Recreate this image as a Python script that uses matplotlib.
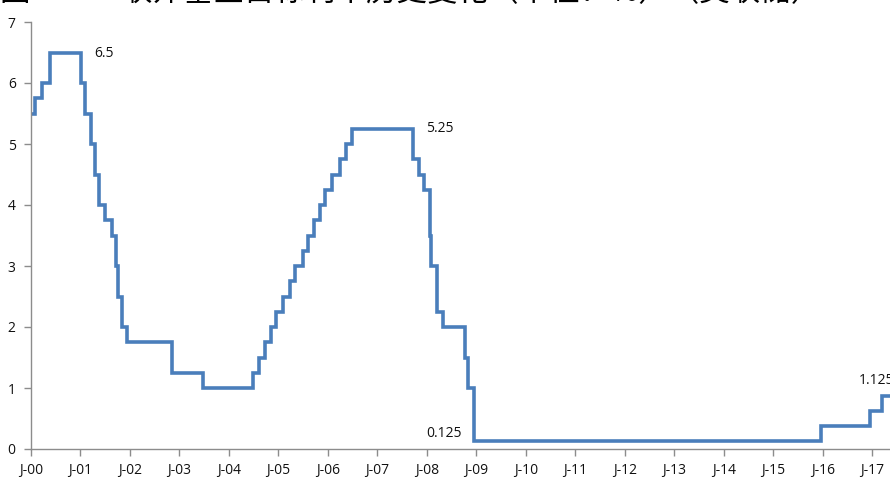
import matplotlib
matplotlib.use("Agg")
import matplotlib.pyplot as plt
import numpy as np

plt.rcParams['font.family'] = ['Open Sans', 'Noto Sans CJK SC', 'DejaVu Sans']

# Fed funds target rate change dates (year, month, day) and new target level (%)
change_dates = [
    (1999, 11, 16), (2000, 2, 2), (2000, 3, 21), (2000, 5, 16),
    (2001, 1, 3), (2001, 1, 31), (2001, 3, 20), (2001, 4, 18), (2001, 5, 15),
    (2001, 6, 27), (2001, 8, 21), (2001, 9, 17), (2001, 10, 2), (2001, 11, 6),
    (2001, 12, 11), (2002, 11, 6), (2003, 6, 25), (2004, 6, 30), (2004, 8, 10),
    (2004, 9, 21), (2004, 11, 10), (2004, 12, 14), (2005, 2, 2), (2005, 3, 22),
    (2005, 5, 3), (2005, 6, 30), (2005, 8, 9), (2005, 9, 20), (2005, 11, 1),
    (2005, 12, 13), (2006, 1, 31), (2006, 3, 28), (2006, 5, 10), (2006, 6, 29),
    (2007, 9, 18), (2007, 10, 31), (2007, 12, 11), (2008, 1, 22), (2008, 1, 30),
    (2008, 3, 18), (2008, 4, 30), (2008, 10, 8), (2008, 10, 29), (2008, 12, 16),
    (2015, 12, 16), (2016, 12, 14), (2017, 3, 15), (2017, 6, 14),
]
rates = [
    5.50, 5.75, 6.00, 6.50,
    6.00, 5.50, 5.00, 4.50, 4.00,
    3.75, 3.50, 3.00, 2.50, 2.00,
    1.75, 1.25, 1.00, 1.25, 1.50,
    1.75, 2.00, 2.25, 2.50, 2.75,
    3.00, 3.25, 3.50, 3.75, 4.00,
    4.25, 4.50, 4.75, 5.00, 5.25,
    4.75, 4.50, 4.25, 3.50, 3.00,
    2.25, 2.00, 1.50, 1.00, 0.125,
    0.375, 0.625, 0.875, 1.125,
]
end_date = (2017, 9, 1)

tick_years = list(range(2000, 2018))
tick_labels = ["J-%02d" % (y % 100) for y in tick_years]

# labelled points: (index in the series, text)
labels = [(3, "6.5"), (33, "5.25"), (43, "0.125"), (47, "1.125")]

title = "图一　　联邦基金目标利率历史变化（单位：%）（美联储）"


def frac_year(d):
    y, m, dd = d
    return y + (m - 1) / 12.0 + (dd - 1) / 365.0


xs = [frac_year(d) for d in change_dates] + [frac_year(end_date)]
ys = rates + [rates[-1]]

fig = plt.figure(figsize=(8.9, 4.78), dpi=100)
ax = fig.add_axes([31 / 890, 29 / 478, 1 - 31 / 890, 427 / 478])
ax.step(xs, ys, where='post', color='#4A7EBB', lw=2.6, solid_joinstyle='miter')

ax.set_xlim(2000.0, 2017.36)
ax.set_ylim(0, 7)
ax.set_yticks(range(0, 8))
ax.set_xticks(tick_years)
ax.set_xticklabels(tick_labels)

for s in ['top', 'right']:
    ax.spines[s].set_visible(False)
for s in ['left', 'bottom']:
    ax.spines[s].set_color('#8C8C8C')
    ax.spines[s].set_linewidth(1.0)
ax.tick_params(axis='both', colors='#8C8C8C', length=5, width=1.0,
               labelcolor='#111111', labelsize=10)
ax.tick_params(axis='x', pad=5)
ax.tick_params(axis='y', pad=6)

# data labels
offsets = {
    "6.5": ((13, -1), 'left', 'end'),
    "5.25": ((13, 0), 'left', 'end'),
    "0.125": ((-12, 8), 'right', 'start'),
    "1.125": ((-36, 0), 'left', 'start'),
}
for idx, txt in labels:
    (dx, dy), ha, where = offsets[txt]
    xe = xs[idx + 1] if where == 'end' else xs[idx]
    ax.annotate(txt, xy=(xe, rates[idx]), xytext=(dx, dy),
                textcoords='offset pixels', ha=ha, va='center',
                fontsize=10, color='#111111', annotation_clip=False)

fig.text(0.0, 1 - 1.0 / 478, title,
         ha='left', va='baseline', fontsize=22, color='black',
         family=['Noto Sans CJK SC', 'DejaVu Sans'])

fig.savefig("out.png", dpi=100)
